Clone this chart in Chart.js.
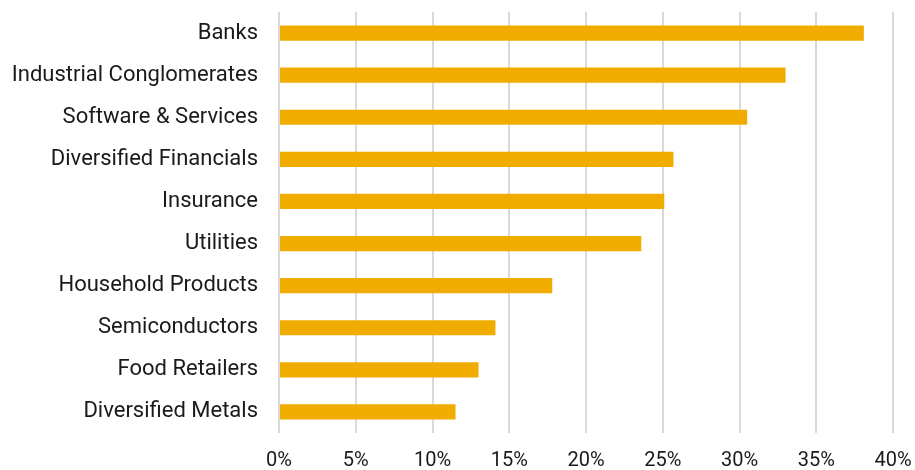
<!DOCTYPE html>
<html>
<head>
<meta charset="utf-8">
<title>Sector weights</title>
<script src="https://cdn.jsdelivr.net/npm/chart.js@4/dist/chart.umd.min.js"></script>
<style>
  html, body { margin: 0; padding: 0; background: #fff; }
  #wrap { width: 915px; height: 470px; position: relative; }
</style>
</head>
<body>
<div id="wrap"><canvas id="chart-sectors"></canvas></div>
<script>
const sectors = [
  "Banks",
  "Industrial Conglomerates",
  "Software & Services",
  "Diversified Financials",
  "Insurance",
  "Utilities",
  "Household Products",
  "Semiconductors",
  "Food Retailers",
  "Diversified Metals",
];

const shares = [38.1, 33.0, 30.5, 25.7, 25.1, 23.6, 17.8, 14.1, 13.0, 11.5];

const xTicks = [0, 5, 10, 15, 20, 25, 30, 35, 40];

const BAR_COLOR = "#f0ad00";
const GRID_COLOR = "#d9d9d9";
const TEXT_COLOR = "#1a1a1a";

Chart.defaults.font.family = "Roboto, 'Noto Sans', sans-serif";
Chart.defaults.color = TEXT_COLOR;

const ctx = document.getElementById("chart-sectors");

new Chart(ctx, {
  type: "bar",
  data: {
    labels: sectors,
    datasets: [
      {
        label: "Share",
        data: shares,
        backgroundColor: BAR_COLOR,
        borderWidth: 0,
        categoryPercentage: 1,
        barPercentage: 0.36,
      },
    ],
  },
  options: {
    indexAxis: "y",
    responsive: true,
    maintainAspectRatio: false,
    animation: false,
    layout: {
      padding: { top: 12, right: 22, bottom: 0, left: 0 },
    },
    plugins: {
      legend: { display: false },
      tooltip: { enabled: false },
    },
    scales: {
      x: {
        min: xTicks[0],
        max: xTicks[xTicks.length - 1],
        afterBuildTicks: (axis) => {
          axis.ticks = xTicks.map((v) => ({ value: v }));
        },
        afterFit: (axis) => {
          axis.height = 37;
          axis.paddingLeft = 0;
          axis.paddingRight = 0;
        },
        border: { display: false },
        grid: {
          color: GRID_COLOR,
          lineWidth: 2,
          drawTicks: false,
        },
        ticks: {
          padding: 16,
          font: { size: 20 },
          callback: (v) => v + "%",
        },
      },
      y: {
        border: { display: false },
        grid: { display: false, drawTicks: false },
        ticks: {
          padding: 21,
          font: { size: 22 },
        },
        // fixed gutter for the category names; no extra room above/below
        afterFit: (axis) => {
          axis.width = 279;
          axis.paddingTop = 0;
          axis.paddingBottom = 0;
        },
      },
    },
  },
});
</script>
</body>
</html>
